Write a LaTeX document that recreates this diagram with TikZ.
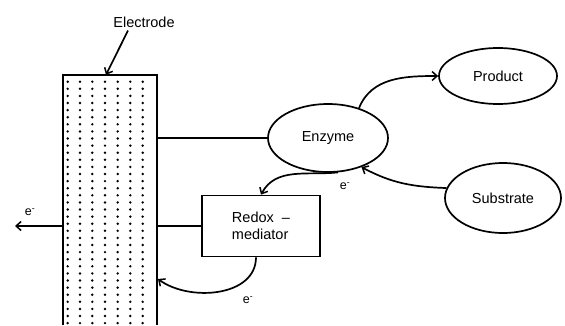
\documentclass[tikz,border=0pt]{standalone}
\usepackage{fontspec}
\setmainfont{Liberation Sans}
\usetikzlibrary{arrows.meta,shapes.geometric}
\begin{document}
\begin{tikzpicture}[x=1pt,y=1pt,
  lbl/.style={font=\fontsize{14.5}{16}\selectfont, inner sep=1pt},
  elbl/.style={font=\fontsize{12.5}{13}\selectfont, inner sep=0pt},
  oval/.style={draw, ellipse, line width=1.7pt, inner sep=0pt, font=\fontsize{14.5}{16}\selectfont},
  wire/.style={line width=1.8pt},
  arr/.style={line width=1.7pt, -{Straight Barb[length=5pt,width=9pt,line width=1.5pt]}},
  dotm/.style={fill=black}
]
\useasboundingbox (0,0) rectangle (565,325);
% electrode
\node[minimum width=93pt, minimum height=250pt, inner sep=0pt] (electrode) at (110,125) {};
\foreach \xx in {67.7,80,92.3,105,117.7,130.3,142.7}{
  \foreach \i in {0,...,34}{
    \fill[dotm] (\xx,243.3-7.1*\i) circle (1.35pt);
  }
}
\draw[line width=1.8pt] (electrode.south west) -- (electrode.north west) -- (electrode.north east) -- (electrode.south east);
\node[lbl] (elab) at (144,303) {Electrode};
\draw[arr] ([xshift=-16pt,yshift=-2pt]elab.south) -- ([xshift=-4pt]electrode.north);
% nodes
\node[oval, minimum width=120pt, minimum height=68pt] (enzyme) at (328,187) {Enzyme};
\node[oval, minimum width=118pt, minimum height=56pt] (product) at (498,249) {Product};
\node[oval, minimum width=116pt, minimum height=70pt] (substrate) at (503,127) {Substrate};
\node[draw, line width=1.7pt, minimum width=118pt, minimum height=61pt, inner sep=0pt,
      font=\fontsize{14.5}{17}\selectfont, align=left] (redox) at (261,99) {Redox\ \ --\\mediator};
% connectors
\draw[wire] (enzyme.west) -- (enzyme.west -| electrode.east);
\draw[wire] (redox.west) -- (redox.west -| electrode.east);
\coordinate (eout) at (15,99);
\draw[arr, line width=2pt] (eout -| electrode.west) -- (eout);
\node[elbl] (e1) at (30,113) {e\textsuperscript{-}};
\draw[arr] (enzyme.44) to[out=68,in=180] (product.west);
\draw[arr] (substrate.170) to[out=178,in=-28] (enzyme.-41);
\draw[arr] (enzyme.-74) to[out=186,in=62] (redox.north);
\node[elbl] (e2) at (345,139) {e\textsuperscript{-}};
\coordinate (ein) at (158,46);
\draw[arr] ([xshift=-5pt]redox.south) to[out=-90,in=-36] (ein);
\node[elbl] (e3) at (248,25) {e\textsuperscript{-}};
\end{tikzpicture}
\end{document}
